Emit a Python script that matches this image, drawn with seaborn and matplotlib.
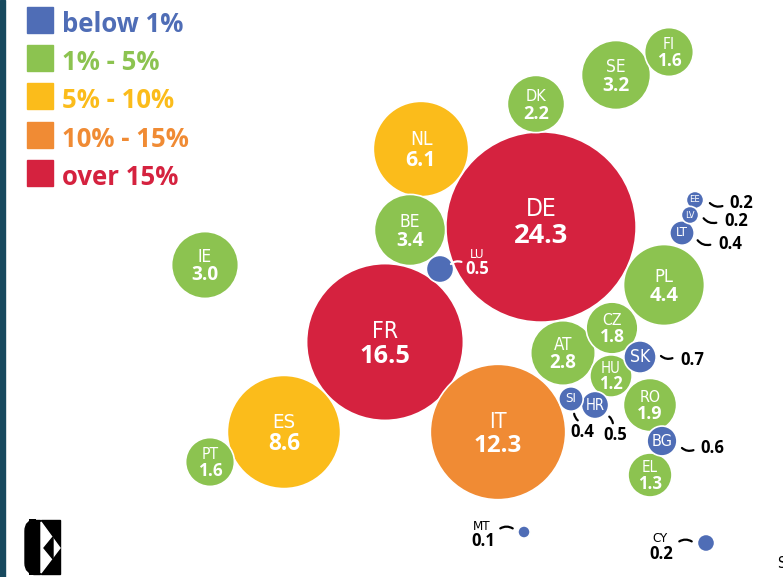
import numpy as np
import pandas as pd
import seaborn as sns
import matplotlib.pyplot as plt
from matplotlib import font_manager as fm
from matplotlib.patches import Rectangle, Polygon, FancyBboxPatch

# share of EU total (%), by country
codes = ['DE', 'FR', 'IT', 'ES', 'NL', 'PL', 'BE', 'SE', 'IE', 'AT', 'DK', 'RO', 'CZ', 'FI',
         'PT', 'EL', 'HU', 'SK', 'BG', 'LU', 'HR', 'LT', 'SI', 'EE', 'LV', 'CY', 'MT']
shares = [24.3, 16.5, 12.3, 8.6, 6.1, 4.4, 3.4, 3.2, 3.0, 2.8, 2.2, 1.9, 1.8, 1.6,
          1.6, 1.3, 1.2, 0.7, 0.6, 0.5, 0.5, 0.4, 0.4, 0.2, 0.2, 0.2, 0.1]
# bubble layout (pixel grid of the picture)
pos_x = [541, 385, 498, 284, 421, 664, 410, 616, 205, 563, 536, 650, 612, 669,
         210, 650, 611, 640, 662, 440, 595, 682, 571, 695, 690, 706, 524]
pos_y = [227, 342, 432, 432, 149, 285, 230, 75, 265, 353, 104, 405, 328, 52,
         462, 475, 376, 357, 441, 269, 405, 233, 399, 200, 215, 543, 532]

band_labels = ['below 1%', '1% - 5%', '5% - 10%', '10% - 15%', 'over 15%']
band_edges = [0, 1, 5, 10, 15, 100]
band_colors = ['#4f6db6', '#8cc350', '#fbbc1b', '#f08b34', '#d5223f']

df = pd.DataFrame({'code': codes, 'share': shares, 'x': pos_x, 'y': pos_y})
df['band'] = pd.cut(df['share'], band_edges, labels=band_labels).astype(str)

# pick a condensed face if one is installed
fonts = fm.fontManager.ttflist
names = {f.name for f in fonts}
narrow, stretch = 'DejaVu Sans', 'normal'
for fam in ['Liberation Sans Narrow', 'DejaVu Sans', 'Noto Sans', 'Open Sans', 'Roboto']:
    if fam == 'Liberation Sans Narrow' and fam in names:
        narrow = fam
        break
    if any(f.name == fam and f.stretch in ('condensed', 'semi-condensed', 600, 500) for f in fonts):
        narrow, stretch = fam, 'condensed'
        break
bold = 'Open Sans' if 'Open Sans' in names else 'DejaVu Sans'
NARROW = dict(family=narrow, stretch=stretch)

W, H, DPI = 783, 577, 100
fig = plt.figure(figsize=(W / DPI, H / DPI), dpi=DPI)
ax = fig.add_axes([0, 0, 1, 1])
ax.set_xlim(0, W)
ax.set_ylim(H, 0)
ax.axis('off')

# bubble area ~ share; radius in px = 19.3*sqrt(share)
k = 19.3
smax = (2 * k * 0.72) ** 2 * max(shares)
sns.scatterplot(data=df, x='x', y='y', hue='band', size='share',
                palette=dict(zip(band_labels, band_colors)),
                sizes=(0, smax), size_norm=(0, max(shares)),
                edgecolor='white', linewidth=1.2, alpha=1, legend=False, ax=ax, zorder=2)

# labels inside the bigger bubbles
for _, row in df.iterrows():
    r = k * np.sqrt(row['share'])
    if row['share'] >= 1:
        c = 4.5 + 1.35 * np.sqrt(r)
        v = 5 + 1.5 * np.sqrt(r)
        top = row['y'] - (c + 0.4 * c + v) / 2
        if row['code'] == 'DE':
            top -= 6
        ax.text(row['x'], top + c, row['code'], color='white', fontsize=c, **NARROW,
                ha='center', va='baseline', zorder=3)
        ax.text(row['x'], top + 1.4 * c + v, f"{row['share']:.1f}", color='white', fontsize=v,
                family=bold, weight='bold', ha='center', va='baseline', zorder=3)
    elif row['code'] not in ('LU', 'MT', 'CY'):
        ax.text(row['x'], row['y'], row['code'], color='white', fontsize=0.78 * r, **NARROW,
                ha='center', va='center', zorder=3)

# value labels outside the small bubbles: text pos, connector start, connector end, curve
outside = {
    'EE': ((741, 203), (708, 201), (725, 205), 0.4),
    'LV': ((736, 221), (702, 216), (719, 222), 0.4),
    'LT': ((730, 244), (696, 238), (713, 244), 0.4),
    'SK': ((692, 360), (659, 354), (675, 357), 0.4),
    'BG': ((712, 448), (680, 446), (696, 449), 0.4),
    'SI': ((582, 432), (574, 411), (580, 422), 0.3),
    'HR': ((615, 435), (607, 415), (613, 426), -0.3),
}
for code, (txt, p0, p1, rad) in outside.items():
    val = df.loc[df['code'] == code, 'share'].iloc[0]
    ax.text(*txt, f'{val:.1f}', fontsize=12, family=bold, weight='bold', color='black',
            ha='center', va='center', zorder=3)
    ax.annotate('', xy=p1, xytext=p0, zorder=3,
                arrowprops=dict(arrowstyle='-', lw=1.6, color='black',
                                connectionstyle=f'arc3,rad={rad}'))

# code + value labels beside the tiniest bubbles
beside = {
    'LU': ((477, 254), (477, 269), (449, 266), (464, 263), 'white'),
    'MT': ((482, 526), (483, 541), (498, 530), (515, 530), 'black'),
    'CY': ((660, 539), (661, 554), (677, 543), (694, 543), 'black'),
}
for code, (pc, pv, p0, p1, col) in beside.items():
    val = df.loc[df['code'] == code, 'share'].iloc[0]
    ax.text(*pc, code, fontsize=9.5, **NARROW, color=col, ha='center', va='center', zorder=3)
    ax.text(*pv, f'{val:.1f}', fontsize=12, family=bold, weight='bold', color=col,
            ha='center', va='center', zorder=3)
    ax.annotate('', xy=p1, xytext=p0, zorder=3,
                arrowprops=dict(arrowstyle='-', lw=1.6, color=col,
                                connectionstyle='arc3,rad=-0.4'))

# legend
for i, (lab, col) in enumerate(zip(band_labels, band_colors)):
    y0 = 7 + i * 38.2
    ax.add_patch(Rectangle((27, y0), 26, 26, color=col, zorder=3))
    ax.text(62, y0 + 25, lab, fontsize=18.5, family=bold, weight='bold', color=col,
            ha='left', va='baseline', zorder=3)

# logo
ax.add_patch(FancyBboxPatch((25, 520), 15, 54, boxstyle='round,pad=0,rounding_size=11',
                            color='black', zorder=3))
ax.add_patch(Rectangle((33, 520), 7, 54, color='black', zorder=3))
ax.add_patch(Rectangle((41, 520), 19, 54, color='black', zorder=3))
ax.add_patch(Polygon([(41, 522), (41, 573), (60, 548)], color='white', zorder=4))
ax.add_patch(Polygon([(44, 548), (53, 537), (53, 559)], color='black', zorder=5))

ax.text(777, 564, 'S', fontsize=11, **NARROW, color='black', ha='left', va='center')

# dark strip on the left edge
fig.patches.append(Rectangle((0, 0), 5 / W, 1, transform=fig.transFigure,
                             color='#17495e', zorder=10))

fig.savefig('out.png', dpi=DPI)
